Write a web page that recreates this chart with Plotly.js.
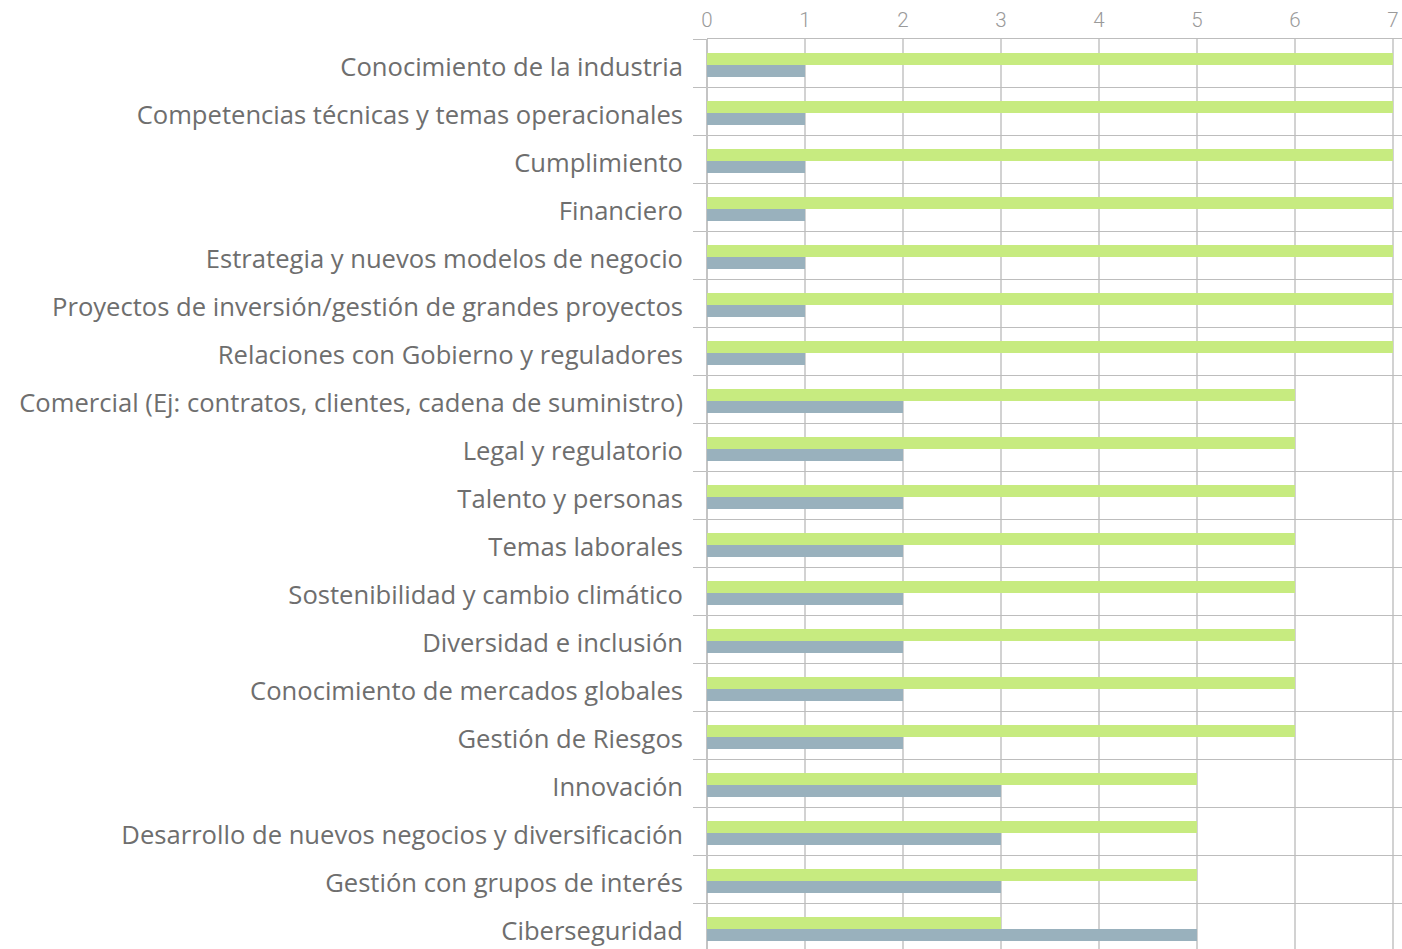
<!DOCTYPE html>
<html>
<head>
<meta charset="utf-8">
<script src="https://cdn.plot.ly/plotly-3.0.1.min.js"></script>
<style>
html,body{margin:0;padding:0;background:#fff;}
#chart{width:1402px;height:949px;}
</style>
</head>
<body>
<div id="chart"></div>
<script>
const categories = [
  "Conocimiento de la industria",
  "Competencias técnicas y temas operacionales",
  "Cumplimiento",
  "Financiero",
  "Estrategia y nuevos modelos de negocio",
  "Proyectos de inversión/gestión de grandes proyectos",
  "Relaciones con Gobierno y reguladores",
  "Comercial (Ej: contratos, clientes, cadena de suministro)",
  "Legal y regulatorio",
  "Talento y personas",
  "Temas laborales",
  "Sostenibilidad y cambio climático",
  "Diversidad e inclusión",
  "Conocimiento de mercados globales",
  "Gestión de Riesgos",
  "Innovación",
  "Desarrollo de nuevos negocios y diversificación",
  "Gestión con grupos de interés",
  "Ciberseguridad"
];
const seriesA = [7,7,7,7,7,7,7,6,6,6,6,6,6,6,6,5,5,5,3];
const seriesB = [1,1,1,1,1,1,1,2,2,2,2,2,2,2,2,3,3,3,5];
const xTicks = [0,1,2,3,4,5,6,7];

const data = [
  {
    type: 'bar', orientation: 'h', name: 'Serie 1',
    y: categories, x: seriesA,
    marker: {color: '#c7eb80'},
    width: 0.25, offset: -0.2083,
    hoverinfo: 'x+y'
  },
  {
    type: 'bar', orientation: 'h', name: 'Serie 2',
    y: categories, x: seriesB,
    marker: {color: '#99b1bd'},
    width: 0.25, offset: 0.0417,
    hoverinfo: 'x+y'
  }
];

const layout = {
  width: 1402, height: 949,
  margin: {l: 707, r: 0, t: 39, b: 0, pad: 0},
  paper_bgcolor: '#ffffff', plot_bgcolor: '#ffffff',
  showlegend: false,
  barmode: 'overlay',
  xaxis: {
    side: 'top',
    range: [0, 7.092],
    tickvals: xTicks,
    ticktext: xTicks.map(String),
    showgrid: true, gridcolor: '#d2d2d2', gridwidth: 1.5,
    zeroline: true, zerolinecolor: '#c4c4c4', zerolinewidth: 1.5,
    showline: true, linecolor: '#bdbdbd', linewidth: 1,
    ticks: '', ticklabelstandoff: 3,
    tickfont: {family: 'Roboto', size: 20.5, color: '#9a9a9a', weight: 300}
  },
  yaxis: {
    type: 'category',
    categoryorder: 'array', categoryarray: categories,
    range: [18.4583, -0.5],
    tickson: 'boundaries',
    ticks: 'outside', ticklen: 13, tickcolor: '#bdbdbd', tickwidth: 1,
    showgrid: true, gridcolor: '#bdbdbd', gridwidth: 1,
    showline: false, zeroline: false,
    ticklabelstandoff: 23,
    ticklabelshift: -4,
    tickfont: {family: 'Open Sans', size: 25.6, color: '#6e6e6e', weight: 500}
  }
};

Plotly.newPlot('chart', data, layout, {displayModeBar: false, staticPlot: true});
</script>
</body>
</html>
